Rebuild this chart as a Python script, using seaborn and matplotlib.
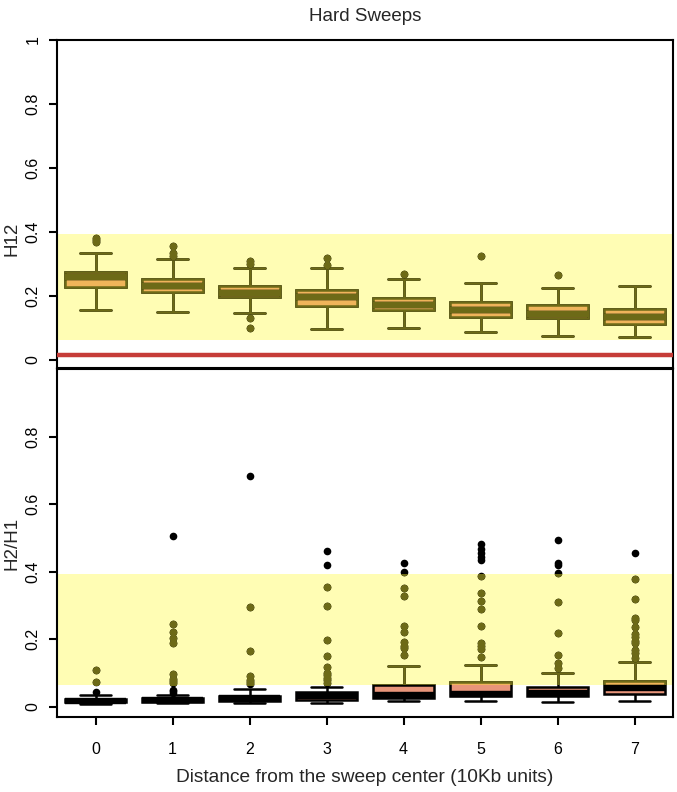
import pandas as pd
import matplotlib
matplotlib.use("Agg")
import matplotlib.pyplot as plt
import seaborn as sns
from matplotlib.patches import Rectangle

# distance from the sweep center (10Kb units)
positions = ["0", "1", "2", "3", "4", "5", "6", "7"]

# H12 box summaries (lower whisker, Q1, median, Q3, upper whisker)
h12_lo = [0.156, 0.151, 0.146, 0.097, 0.101, 0.086, 0.075, 0.071]
h12_q1 = [0.227, 0.211, 0.196, 0.170, 0.157, 0.135, 0.130, 0.111]
h12_med = [0.259, 0.232, 0.209, 0.197, 0.173, 0.156, 0.145, 0.134]
h12_q3 = [0.276, 0.254, 0.230, 0.218, 0.193, 0.180, 0.171, 0.158]
h12_hi = [0.333, 0.317, 0.288, 0.286, 0.252, 0.240, 0.226, 0.232]
h12_out = [
    [0.368, 0.375, 0.382],
    [0.325, 0.333, 0.356],
    [0.099, 0.130, 0.299, 0.310],
    [0.297, 0.318],
    [0.268],
    [0.324],
    [0.266],
    [],
]

# H2/H1 box summaries
h21_lo = [0.008, 0.009, 0.010, 0.010, 0.016, 0.016, 0.014, 0.017]
h21_q1 = [0.012, 0.013, 0.016, 0.018, 0.026, 0.030, 0.031, 0.038]
h21_med = [0.017, 0.019, 0.024, 0.031, 0.034, 0.038, 0.040, 0.055]
h21_q3 = [0.022, 0.025, 0.031, 0.043, 0.065, 0.073, 0.059, 0.076]
h21_hi = [0.034, 0.035, 0.051, 0.058, 0.120, 0.122, 0.098, 0.131]
h21_out = [
    [0.042, 0.073, 0.108],
    [0.040, 0.046, 0.050, 0.070, 0.076, 0.082, 0.096, 0.189, 0.204, 0.220, 0.244, 0.505],
    [0.067, 0.074, 0.080, 0.091, 0.165, 0.295, 0.684],
    [0.070, 0.078, 0.085, 0.092, 0.099, 0.118, 0.150, 0.196, 0.298, 0.355, 0.418, 0.462],
    [0.153, 0.173, 0.180, 0.192, 0.220, 0.240, 0.327, 0.351, 0.399, 0.426],
    [0.147, 0.170, 0.180, 0.188, 0.238, 0.290, 0.313, 0.335, 0.387, 0.434, 0.444, 0.456, 0.468, 0.481],
    [0.114, 0.129, 0.153, 0.218, 0.311, 0.395, 0.420, 0.426, 0.493],
    [0.143, 0.158, 0.167, 0.189, 0.195, 0.205, 0.215, 0.236, 0.256, 0.263, 0.318, 0.379, 0.454],
]

# shaded band and neutral threshold
band_lo, band_hi = 0.0625, 0.394
h12_neutral = 0.016

OLIVE = "#6D6A17"
ORANGE = "#F0B45A"
SALMON = "#E8957A"
YELLOW = "#FFFDB4"
RED = "#C63C38"


def box_frame(lo, q1, med, q3, hi):
    rows = []
    for p, a, b, c, d, e in zip(positions, lo, q1, med, q3, hi):
        for v in (a, b, c, d, e):
            rows.append((p, v))
    return pd.DataFrame(rows, columns=["pos", "value"])


def outlier_frame(outs):
    rows = [(p, v) for p, vals in zip(positions, outs) for v in vals]
    return pd.DataFrame(rows, columns=["pos", "value"])


def draw_layer(ax, boxes, fliers, edge, fill, dot, clip=None):
    n_p, n_l, n_c = len(ax.patches), len(ax.lines), len(ax.collections)
    sns.boxplot(data=boxes, x="pos", y="value", order=positions, ax=ax,
                whis=(0, 100), width=0.8, color=fill, linecolor=edge,
                linewidth=1.8, saturation=1)
    # thick median bars, as in the original R figure
    box_art = ax.containers[-1]
    for ln in box_art.medians:
        ln.set_linewidth(4.6)
        ln.set_solid_capstyle("butt")
        ln.set_color(edge)
        ln.set_zorder(2.5)
    sns.stripplot(data=fliers, x="pos", y="value", order=positions, ax=ax,
                  jitter=False, color=dot, size=5.5, linewidth=0)
    if clip is not None:
        new = ax.patches[n_p:] + ax.lines[n_l:] + ax.collections[n_c:]
        for art in new:
            art.set_clip_path(Rectangle((-1, band_lo), 10, band_hi - band_lo,
                                        transform=ax.transData))


sns.set_theme(style="ticks")
plt.rcParams["font.family"] = ["Liberation Sans", "DejaVu Sans"]

fig = plt.figure(figsize=(6.77, 7.92), dpi=100)
W, H = 677, 792
ax_top = fig.add_axes([57 / W, 1 - 368 / H, 616 / W, 328 / H])
ax_bot = fig.add_axes([57 / W, 1 - 717 / H, 616 / W, 348 / H])

panels = [
    (ax_top, box_frame(h12_lo, h12_q1, h12_med, h12_q3, h12_hi), outlier_frame(h12_out)),
    (ax_bot, box_frame(h21_lo, h21_q1, h21_med, h21_q3, h21_hi), outlier_frame(h21_out)),
]

for ax, boxes, fliers in panels:
    ax.axhspan(band_lo, band_hi, color=YELLOW, lw=0, zorder=0)
    draw_layer(ax, boxes, fliers, "black", SALMON, "black")
    draw_layer(ax, boxes, fliers, OLIVE, ORANGE, OLIVE, clip=True)
    ax.set_xlim(-0.5, 7.5)
    for s in ax.spines.values():
        s.set_visible(True)
        s.set_linewidth(1.5)
        s.set_color("black")
    ax.tick_params(axis="y", direction="out", length=6, width=1.5, pad=6,
                   labelsize=11.5, colors="black")

ax_top.axhline(h12_neutral, color=RED, lw=3.2, zorder=3)

ax_top.set_ylim(-0.025, 1.0)
ax_top.set_yticks([0, 0.2, 0.4, 0.6, 0.8, 1.0])
ax_top.set_yticklabels(["0", "0.2", "0.4", "0.6", "0.8", "1"], rotation=90, va="center")
ax_top.set_xticks([])
ax_top.set_xlabel("")
ax_top.set_ylabel("H12", fontsize=13.5)
ax_top.yaxis.set_label_coords(-0.06, 0.393)
ax_top.set_title("Hard Sweeps", fontsize=13.5, pad=14)

ax_bot.set_ylim(-0.031, 1.0)
ax_bot.set_yticks([0, 0.2, 0.4, 0.6, 0.8])
ax_bot.set_yticklabels(["0", "0.2", "0.4", "0.6", "0.8"], rotation=90, va="center")
ax_bot.set_xticks(range(len(positions)))
ax_bot.set_xticklabels(positions)
ax_bot.tick_params(axis="x", direction="out", length=6, width=1.5, pad=12,
                   labelsize=11.5, colors="black")
ax_bot.set_ylabel("H2/H1", fontsize=13.5)
ax_bot.yaxis.set_label_coords(-0.06, 0.5)
ax_bot.set_xlabel("Distance from the sweep center (10Kb units)", fontsize=13.8)
ax_bot.xaxis.set_label_coords(0.5, -0.15)

fig.savefig("out.png", dpi=100)
